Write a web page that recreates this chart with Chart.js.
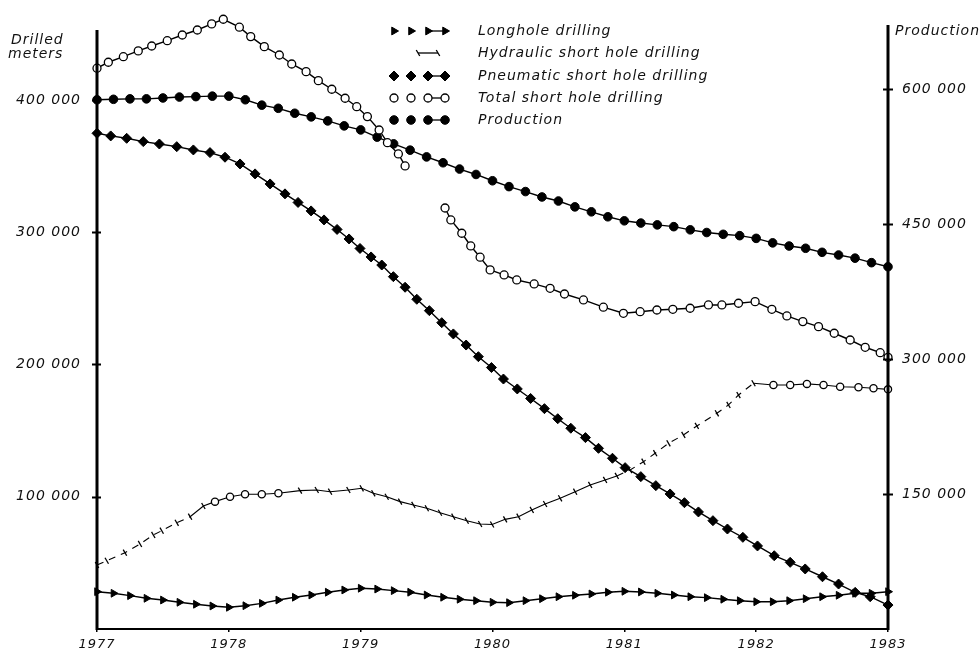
<!DOCTYPE html>
<html>
<head>
<meta charset="utf-8">
<script src="https://cdn.jsdelivr.net/npm/chart.js@4/dist/chart.umd.min.js"></script>
<style>
  html, body { margin: 0; padding: 0; background: #fff; }
  #wrap { width: 979px; height: 653px; position: relative; }
</style>
</head>
<body>
<div id="wrap"><canvas id="c" width="979" height="653"></canvas></div>
<script>
// ---- data -------------------------------------------------------------
// Sample grid (8 readings per year) used by the flat series
const sampleYears = Array.from({ length: 49 }, (_, i) => 1977 + i / 8);

const yearTicks = [1977, 1978, 1979, 1980, 1981, 1982, 1983];
const metersTicks = [100000, 200000, 300000, 400000];
const productionTicks = [150000, 300000, 450000, 600000];

// Production (right axis), on sampleYears
const production = [
  588000, 588500, 589000, 589000, 590000, 591000, 591500, 592000, 592000,
  588000, 582000, 578500, 573000, 569000, 564500, 559000, 554500,
  546500, 539000, 532000, 524500, 518000, 511000, 505000, 498000,
  491500, 486000, 480000, 475500, 469000, 463500, 458000, 453500,
  451000, 449000, 447000, 443500, 440500, 438500, 437000, 434000,
  429000, 425500, 423000, 418500, 415500, 412000, 407000, 402500
];

// Longhole drilling, on sampleYears
const longhole = [
  28200, 27000, 25200, 23200, 21900, 20200, 18700, 17400, 16400,
  17600, 19400, 21900, 24000, 25700, 27800, 29500, 30800,
  30200, 29000, 27800, 25700, 24000, 22500, 21400, 20200,
  19900, 21400, 22900, 24400, 25500, 26500, 27800, 28500,
  28000, 27000, 25700, 24400, 23700, 22500, 21400, 20600,
  20600, 21400, 22900, 24400, 25500, 27000, 27000, 28200
];

// Pneumatic short hole drilling
const pneumaticYears = [
  1977.000, 1977.104, 1977.225, 1977.351, 1977.473, 1977.605, 1977.731, 1977.857,
  1977.971, 1978.085, 1978.199, 1978.313, 1978.426, 1978.525, 1978.624, 1978.722,
  1978.821, 1978.912, 1978.995, 1979.079, 1979.160, 1979.248, 1979.337, 1979.426,
  1979.521, 1979.615, 1979.703, 1979.800, 1979.893, 1979.992, 1980.083, 1980.188,
  1980.289, 1980.394, 1980.495, 1980.594, 1980.705, 1980.804, 1980.910, 1981.006,
  1981.125, 1981.239, 1981.347, 1981.456, 1981.562, 1981.672, 1981.782, 1981.899,
  1982.010, 1982.137, 1982.258, 1982.372, 1982.503, 1982.625, 1982.751, 1982.865,
  1983.000
];
const pneumatic = [
  374800, 372800, 371000, 368500, 366700, 364700, 362200, 360200,
  356700, 351600, 344100, 336500, 329000, 322500, 316100, 309300,
  302100, 294900, 287700, 281300, 275200, 266400, 258400, 249300,
  240700, 231600, 223100, 214700, 205900, 197700, 189000, 181500,
  174300, 166600, 159000, 151800, 144700, 136600, 129100, 122000,
  115200, 108400, 102100, 95500, 88500, 81900, 75600, 69300,
  62800, 55400, 50400, 45400, 39500, 34000, 27700, 24400,
  18100
];

// Total short hole drilling (break in the record during 1979)
const totalYears = [
  1977.000, 1977.086, 1977.200, 1977.313, 1977.415, 1977.533, 1977.647, 1977.761,
  1977.870, 1977.958, 1978.080, 1978.166, 1978.269, 1978.383, 1978.477, 1978.586,
  1978.679, 1978.781, 1978.882, 1978.970, 1979.051, 1979.140, 1979.203, 1979.286,
  1979.337, 1979.490,
  1979.640, 1979.684, 1979.767, 1979.835, 1979.906, 1979.982, 1980.088, 1980.184,
  1980.316, 1980.437, 1980.546, 1980.690, 1980.841, 1980.993, 1981.120, 1981.247,
  1981.368, 1981.499, 1981.638, 1981.740, 1981.866, 1981.992, 1982.119, 1982.233,
  1982.354, 1982.473, 1982.592, 1982.713, 1982.827, 1982.941, 1983.000
];
const total = [
  424000, 428500, 432700, 437100, 440800, 444800, 449100, 452900,
  457500, 461000, 455000, 447900, 440300, 434000, 427200, 421400,
  414600, 408100, 401300, 394900, 387400, 377300, 367700, 359200,
  350100, null,
  318300, 309300, 299200, 289600, 281100, 271500, 267700, 263900,
  260900, 257600, 253300, 248800, 243300, 238700, 239900, 241200,
  241700, 242500, 245000, 245000, 246300, 247500, 241700, 236700,
  232400, 228600, 223600, 218500, 213000, 208900, 205400
];

// Hydraulic short hole drilling
const hydraulicYears = [
  1977.000, 1977.074, 1977.212, 1977.326, 1977.427, 1977.491, 1977.605, 1977.706,
  1977.807, 1977.895, 1978.009, 1978.123, 1978.250, 1978.376, 1978.540, 1978.667,
  1978.768, 1978.907, 1979.008, 1979.096, 1979.198, 1979.299, 1979.400, 1979.502,
  1979.602, 1979.703, 1979.805, 1979.906, 1979.997, 1980.096, 1980.197, 1980.298,
  1980.399, 1980.513, 1980.627, 1980.741, 1980.854, 1980.943, 1981.044, 1981.145,
  1981.234, 1981.335, 1981.448, 1981.550, 1981.702, 1981.790, 1981.866, 1981.980,
  1982.131, 1982.258, 1982.385, 1982.511, 1982.637, 1982.776, 1982.890, 1983.000
];
const hydraulic = [
  48400, 51600, 57700, 64300, 71100, 74300, 80300, 84900,
  93000, 96300, 100000, 101900, 101900, 102600, 104600, 105100,
  103800, 105100, 106400, 102600, 100000, 96300, 93800, 91300,
  87900, 84900, 81900, 79400, 79000, 82900, 84900, 90000,
  94500, 98800, 103800, 108900, 112700, 115700, 120200, 126500,
  132900, 140400, 146700, 153500, 163100, 169400, 176900, 185800,
  184500, 184500, 185300, 184500, 183200, 182800, 182000, 181200
];

const seriesNames = [
  'Longhole drilling',
  'Hydraulic short hole drilling',
  'Pneumatic short hole drilling',
  'Total short hole drilling',
  'Production'
];

// ---- helpers ------------------------------------------------------------
const pairs = (xs, ys) => xs.map((x, i) => ({ x, y: ys[i] }));
const spaced = v => String(Math.round(v)).replace(/\B(?=(\d{3})+(?!\d))/g, ' ');
const FONT = "'DejaVu Sans', 'Liberation Sans', sans-serif";

Chart.defaults.font.family = FONT;
Chart.defaults.font.style = 'italic';
Chart.defaults.color = '#111';

const base = {
  borderColor: '#000',
  borderWidth: 1.4,
  tension: 0,
  clip: false,
  pointBorderColor: '#000',
  pointHoverRadius: 0
};

// hydraulic marks: open rings on the 1978 hump and the 1982 plateau, ticks elsewhere
const ringed = x => (x >= 1977.85 && x <= 1978.4) || x >= 1982.1;
const dashedRun = (a, b) => (b <= 1977.75) || (a > 1980.9 && b < 1982.0);

// flat vertical scales: no extra label padding at the ends
const noEndPadding = s => { s.paddingTop = 0; s.paddingBottom = 0; };

// axis lines with crossing tick marks, hand-placed legend, axis titles
const decor = {
  id: 'decor',
  beforeDraw(chart) {
    chart.ctx.letterSpacing = '1px';
  },
  afterDraw(chart) {
    const ctx = chart.ctx;
    const area = chart.chartArea;
    const drawPoint = Chart.helpers.drawPoint;
    ctx.save();
    ctx.letterSpacing = '1px';
    ctx.strokeStyle = '#000';
    ctx.fillStyle = '#000';

    // vertical axes
    ctx.lineWidth = 3;
    ctx.beginPath();
    ctx.moveTo(area.left, 30);
    ctx.lineTo(area.left, area.bottom + 1);
    ctx.moveTo(area.right, 25);
    ctx.lineTo(area.right, area.bottom + 1);
    ctx.stroke();

    ctx.lineWidth = 1.8;
    ctx.beginPath();
    const ys = chart.scales.y, yr = chart.scales.y1;
    metersTicks.forEach(v => {
      const p = Math.round(ys.getPixelForValue(v)) + 0.5;
      ctx.moveTo(area.left - 5, p);
      ctx.lineTo(area.left + 4, p);
    });
    productionTicks.forEach(v => {
      const p = Math.round(yr.getPixelForValue(v)) + 0.5;
      ctx.moveTo(area.right - 5, p);
      ctx.lineTo(area.right + 5, p);
    });
    ctx.stroke();

    // legend
    const rows = [31, 53, 76, 98, 120];
    chart.data.datasets.forEach((ds, di) => {
      const y = rows[di];
      const xs = di === 1 ? [418, 438] : [394, 411, 428, 445];
      ctx.save();
      ctx.lineWidth = 1.3;
      ctx.beginPath();
      ctx.moveTo(xs[xs.length - 2], y);
      ctx.lineTo(xs[xs.length - 1], y);
      ctx.stroke();
      const style = di === 1 ? 'line' : ds.pointStyle;
      const fill = di === 1 ? '#000' : ds.pointBackgroundColor;
      const radius = di === 1 ? 3.5 : ds.pointRadius;
      xs.forEach(x => {
        ctx.fillStyle = fill;
        ctx.strokeStyle = '#000';
        ctx.lineWidth = ds.pointBorderWidth;
        drawPoint(ctx, {
          pointStyle: style,
          rotation: ds.pointRotation || 0,
          radius: radius,
          borderWidth: ds.pointBorderWidth
        }, x, y);
      });
      ctx.restore();
      ctx.font = 'italic 14px ' + FONT;
      ctx.fillStyle = '#111';
      ctx.textAlign = 'left';
      ctx.textBaseline = 'middle';
      ctx.fillText(seriesNames[di], 478, y);
    });

    // axis titles
    ctx.font = 'italic 14px ' + FONT;
    ctx.fillStyle = '#111';
    ctx.textAlign = 'left';
    ctx.textBaseline = 'middle';
    ctx.fillText('Drilled', 11, 40);
    ctx.fillText('meters', 8, 54);
    ctx.fillText('Production', 895, 31);
    ctx.restore();
  }
};

new Chart(document.getElementById('c'), {
  type: 'line',
  data: {
    datasets: [
      Object.assign({}, base, {
        label: seriesNames[0],
        data: pairs(sampleYears, longhole),
        yAxisID: 'y',
        pointStyle: 'triangle',
        pointRotation: 90,
        pointRadius: 4.5,
        pointBorderWidth: 1,
        pointBackgroundColor: '#000'
      }),
      Object.assign({}, base, {
        label: seriesNames[1],
        data: pairs(hydraulicYears, hydraulic),
        yAxisID: 'y',
        borderWidth: 1.1,
        pointStyle: c => ringed(c.raw.x) ? 'circle' : 'line',
        pointRotation: 60,
        pointRadius: c => ringed(c.raw.x) ? 3.6 : 3.5,
        pointBorderWidth: 1.3,
        pointBackgroundColor: c => ringed(c.raw.x) ? '#fff' : '#000',
        segment: {
          borderDash: c => dashedRun(c.p0.parsed.x, c.p1.parsed.x) ? [7, 6] : undefined
        }
      }),
      Object.assign({}, base, {
        label: seriesNames[2],
        data: pairs(pneumaticYears, pneumatic),
        yAxisID: 'y',
        pointStyle: 'rectRot',
        pointRadius: 5,
        pointBorderWidth: 1,
        pointBackgroundColor: '#000'
      }),
      Object.assign({}, base, {
        label: seriesNames[3],
        data: pairs(totalYears, total),
        yAxisID: 'y',
        pointStyle: 'circle',
        pointRadius: 4,
        pointBorderWidth: 1.3,
        pointBackgroundColor: '#fff'
      }),
      Object.assign({}, base, {
        label: seriesNames[4],
        data: pairs(sampleYears, production),
        yAxisID: 'y1',
        pointStyle: 'circle',
        pointRadius: 4.3,
        pointBorderWidth: 1,
        pointBackgroundColor: '#000'
      })
    ]
  },
  options: {
    responsive: false,
    animation: false,
    events: [],
    layout: { padding: { top: 12, left: 0, right: 0, bottom: 0 } },
    plugins: { legend: { display: false }, tooltip: { enabled: false } },
    scales: {
      x: {
        type: 'linear',
        min: 1977,
        max: 1983,
        afterFit: s => { s.height = 24; },
        afterBuildTicks: s => { s.ticks = yearTicks.map(v => ({ value: v })); },
        ticks: {
          callback: v => String(v),
          font: { size: 13, style: 'italic', family: FONT },
          color: '#111',
          padding: 5,
          maxRotation: 0
        },
        grid: { display: true, drawOnChartArea: false, tickLength: 3, color: '#000', lineWidth: 1.5 },
        border: { display: true, color: '#000', width: 2 }
      },
      y: {
        position: 'left',
        min: 0,
        max: 466500,
        afterFit: s => { s.width = 97; noEndPadding(s); },
        afterBuildTicks: s => { s.ticks = metersTicks.map(v => ({ value: v })); },
        ticks: {
          callback: v => spaced(v),
          font: { size: 14, style: 'italic', family: FONT },
          color: '#111',
          padding: 8
        },
        grid: { display: false },
        border: { display: false }
      },
      y1: {
        position: 'right',
        min: 0,
        max: 685500,
        afterFit: s => { s.width = 91; noEndPadding(s); },
        afterBuildTicks: s => { s.ticks = productionTicks.map(v => ({ value: v })); },
        ticks: {
          callback: v => spaced(v),
          font: { size: 14, style: 'italic', family: FONT },
          color: '#111',
          padding: 6
        },
        grid: { display: false },
        border: { display: false }
      }
    }
  },
  plugins: [decor]
});
</script>
</body>
</html>
